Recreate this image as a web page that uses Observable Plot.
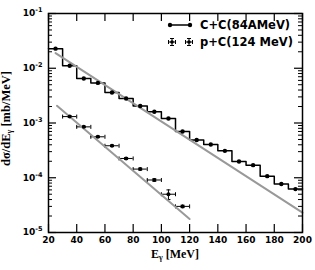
<!DOCTYPE html>
<html><head><meta charset="utf-8">
<script src="https://cdn.jsdelivr.net/npm/d3@7"></script>
<script src="https://cdn.jsdelivr.net/npm/@observablehq/plot@0.6"></script>
<style>body{margin:0;background:#fff} svg{display:block;background:#fff}</style>
</head><body><div id="chart"></div>
<script>
// C+C (84 AMeV) histogram: bin centres and values
const ccEnergy = [25,35,45,55,65,75,85,95,105,115,125,135,145,155,165,175,185,195];
const ccValue = [0.0228,0.0111,0.0065,0.0054,0.0036,0.0028,0.00204,0.0016,0.00121,0.0007,0.000488,0.000405,0.00031,0.000198,0.00017,0.000107,0.000077,0.000062];
const ccHalfBin = 5;
// p+C (124 MeV) points with errors
const pcEnergy = [35,45,55,65,75,85,95,105,115];
const pcValue = [0.00131,0.00085,0.00056,0.000384,0.000225,0.000144,0.000091,0.000050,0.000030];
const pcXErr = 5;
const pcYErrFrac = [0.03,0.03,0.03,0.03,0.04,0.04,0.05,0.2,0.05];
// exponential fits (grey lines)
const ccFitEnergy = [25,200];
const ccFitValue = [0.0189,0.000023];
const pcFitEnergy = [26,120];
const pcFitValue = [0.00206,0.0000176];
// ticks
const xTicks = [20,40,60,80,100,120,140,160,180,200];
const yTicks = [1e-5,1e-4,1e-3,1e-2,1e-1];
const yMinorTicks = [];
for (let d = -5; d < -1; d++) for (let k = 2; k <= 9; k++) yMinorTicks.push(k * Math.pow(10, d));

const W = 315, H = 270, mL = 48, mR = 13, mT = 13, mB = 38;
const pw = W - mL - mR, ph = H - mT - mB;
const majorLen = 8, minorLen = 4;

const cc = ccEnergy.map((e, i) => ({e, v: ccValue[i]}));
const ccSteps = cc.flatMap(d => [{e: d.e - ccHalfBin, v: d.v}, {e: d.e + ccHalfBin, v: d.v}]);
const pc = pcEnergy.map((e, i) => ({e, v: pcValue[i], f: pcYErrFrac[i]}));
const ccFit = ccFitEnergy.map((e, i) => ({e, v: ccFitValue[i]}));
const pcFit = pcFitEnergy.map((e, i) => ({e, v: pcFitValue[i]}));

const vbar = {draw(ctx, size) { const r = Math.sqrt(size / Math.PI); ctx.moveTo(0, -r); ctx.lineTo(0, r); }};
const hbar = {draw(ctx, size) { const r = Math.sqrt(size / Math.PI); ctx.moveTo(-r, 0); ctx.lineTo(r, 0); }};

const plot = Plot.plot({
  width: W, height: H,
  marginLeft: mL, marginRight: mR, marginTop: mT, marginBottom: mB,
  style: {fontFamily: "DejaVu Sans", fontSize: "9px", fontWeight: "bold", color: "black", background: "white"},
  x: {domain: [20, 200]},
  y: {type: "log", domain: [1e-5, 1e-1]},
  marks: [
    Plot.line(ccSteps, {x: "e", y: "v", stroke: "black", strokeWidth: 1.5}),
    Plot.line(ccFit, {x: "e", y: "v", stroke: "#999", strokeWidth: 2}),
    Plot.dot(cc, {x: "e", y: "v", r: 2.2, fill: "black"}),
    Plot.ruleY(pc, {y: "v", x1: d => d.e - pcXErr, x2: d => d.e + pcXErr, stroke: "black", strokeWidth: 1}),
    Plot.ruleX(pc, {x: "e", y1: d => d.v * (1 - d.f), y2: d => d.v * (1 + d.f), stroke: "black", strokeWidth: 1}),
    Plot.dot(pc, {x: d => d.e - pcXErr, y: "v", symbol: vbar, r: 2, stroke: "black", strokeWidth: 1}),
    Plot.dot(pc, {x: d => d.e + pcXErr, y: "v", symbol: vbar, r: 2, stroke: "black", strokeWidth: 1}),
    Plot.dot(pc, {x: "e", y: d => d.v * (1 - d.f), symbol: hbar, r: 2, stroke: "black", strokeWidth: 1}),
    Plot.dot(pc, {x: "e", y: d => d.v * (1 + d.f), symbol: hbar, r: 2, stroke: "black", strokeWidth: 1}),
    Plot.line(pcFit, {x: "e", y: "v", stroke: "#999", strokeWidth: 2}),
    Plot.dot(pc, {x: "e", y: "v", r: 2, fill: "black"}),
    // inward ticks on all four sides
    Plot.tickX(xTicks, {x: d => d, insetTop: ph - majorLen, stroke: "black", strokeWidth: 1.2}),
    Plot.tickX(xTicks, {x: d => d, insetBottom: ph - majorLen, stroke: "black", strokeWidth: 1.2}),
    Plot.tickY(yTicks, {y: d => d, insetRight: pw - majorLen, stroke: "black", strokeWidth: 1.2}),
    Plot.tickY(yTicks, {y: d => d, insetLeft: pw - majorLen, stroke: "black", strokeWidth: 1.2}),
    Plot.tickY(yMinorTicks, {y: d => d, insetRight: pw - minorLen, stroke: "black", strokeWidth: 1}),
    Plot.tickY(yMinorTicks, {y: d => d, insetLeft: pw - minorLen, stroke: "black", strokeWidth: 1}),
    Plot.frame({stroke: "black", strokeWidth: 1.5}),
    Plot.axisX({ticks: xTicks, tickSize: 0, tickPadding: 4, label: null, tickFormat: d => String(d)}),
    Plot.axisY({ticks: yTicks, tickSize: 0, tickPadding: 6, label: null, tickFormat: d => "10^" + Math.round(Math.log10(d))})
  ]
});

const svg = d3.select(plot);
svg.selectAll('g[aria-label="y-axis tick label"] text').each(function() {
  const t = d3.select(this);
  const s = this.textContent.split("^");
  t.text(s[0]);
  t.append("tspan").attr("dy", "-4").attr("font-size", "6.5px").text(s[1]);
});

// axis labels
const xl = svg.append("text")
  .attr("x", mL + pw / 2).attr("y", 258).attr("text-anchor", "middle")
  .attr("font-family", "Liberation Serif").attr("font-size", "12px").attr("font-weight", "bold").attr("fill", "black");
xl.append("tspan").text("E");
xl.append("tspan").attr("font-size", "8px").attr("dy", "2").text("γ");
xl.append("tspan").attr("dy", "-2").text(" [MeV]");

const yl = svg.append("text")
  .attr("transform", `translate(10,${mT + ph / 2 - 4}) rotate(-90)`).attr("text-anchor", "middle")
  .attr("font-family", "Liberation Serif").attr("font-size", "12.5px").attr("font-weight", "bold").attr("fill", "black");
yl.append("tspan").text("dσ/dE");
yl.append("tspan").attr("font-size", "8px").attr("dy", "2").text("γ");
yl.append("tspan").attr("dy", "-2").text(" [mb/MeV]");

// legend
const lg = svg.append("g").attr("font-family", "DejaVu Sans").attr("font-weight", "bold").attr("font-size", "11.5px").attr("text-anchor", "start");
const r1 = 25, r2 = 42;
lg.append("line").attr("x1", 170).attr("x2", 190).attr("y1", r1).attr("y2", r1).attr("stroke", "black").attr("stroke-width", 1.5);
[170, 190].forEach(x => lg.append("circle").attr("cx", x).attr("cy", r1).attr("r", 2.2).attr("fill", "black"));
lg.append("text").attr("x", 200).attr("y", r1 + 4).attr("text-anchor", "start").text("C+C(84AMeV)");
[172, 189].forEach(x => {
  lg.append("path").attr("d", `M${x-3.5},${r2}H${x+3.5}M${x},${r2-3.5}V${r2+3.5}M${x-3.5},${r2-2}V${r2+2}M${x+3.5},${r2-2}V${r2+2}M${x-2},${r2-3.5}H${x+2}M${x-2},${r2+3.5}H${x+2}`)
    .attr("stroke", "black").attr("stroke-width", 1).attr("fill", "none");
  lg.append("circle").attr("cx", x).attr("cy", r2).attr("r", 1.8).attr("fill", "black");
});
lg.append("text").attr("x", 200).attr("y", r2 + 4).attr("text-anchor", "start").text("p+C(124 MeV)");

document.getElementById("chart").appendChild(plot);
</script>
</body></html>
